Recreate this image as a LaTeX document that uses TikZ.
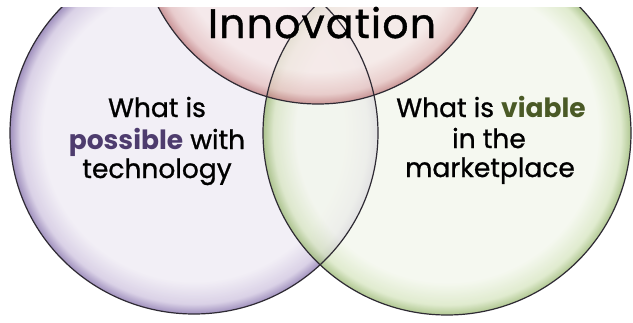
\documentclass[tikz,border=0pt]{standalone}
\usepackage{fontspec}
\setmainfont{Poppins}[UprightFeatures={FakeBold=1}]
\definecolor{pl}{HTML}{EFEBF4}
\definecolor{pm}{HTML}{D0C5E0}
\definecolor{pd}{HTML}{8672AC}
\definecolor{gl}{HTML}{F3F7EC}
\definecolor{gm}{HTML}{D8E6C2}
\definecolor{gd}{HTML}{9AB873}
\definecolor{rl}{HTML}{F6E8E8}
\definecolor{rm}{HTML}{E6C2C2}
\definecolor{rd}{HTML}{BF7C7E}
\definecolor{edge}{HTML}{2E2A33}
\definecolor{possc}{HTML}{4E3C6E}
\definecolor{viac}{HTML}{4A5A26}
\pgfdeclareradialshading{purpleglass}{\pgfpoint{0bp}{0bp}}{color(0bp)=(pl); color(20.5bp)=(pl); color(23.6bp)=(pm); color(25bp)=(pd); color(50bp)=(pd)}
\pgfdeclareradialshading{greenglass}{\pgfpoint{0bp}{0bp}}{color(0bp)=(gl); color(20.5bp)=(gl); color(23.6bp)=(gm); color(25bp)=(gd); color(50bp)=(gd)}
\pgfdeclareradialshading{pinkglass}{\pgfpoint{0bp}{0bp}}{color(0bp)=(rl); color(20.5bp)=(rl); color(23.6bp)=(rm); color(25bp)=(rd); color(50bp)=(rd)}
\tikzset{
  glass/.style={opacity=0.78},
  rim/.style={draw=edge, line width=1.2pt},
  txt/.style={anchor=base, inner sep=0pt, font=\fontsize{26.5}{30}\selectfont, text=black},
}
\begin{document}
\begin{tikzpicture}[x=1pt,y=-1pt]
\useasboundingbox[fill=white] (0,0) rectangle (633,322);
\begin{scope}
\clip (0,7) rectangle (633,322);
\shade[glass, shading=purpleglass] (194,133) ellipse [x radius=184, y radius=181];
\shade[glass, shading=greenglass] (447,133) ellipse [x radius=184, y radius=182];
\shade[glass, shading=pinkglass] (318,-76) circle [radius=180];
\draw[rim] (194,133) ellipse [x radius=184, y radius=181];
\draw[rim] (447,133) ellipse [x radius=184, y radius=182];
\draw[rim] (318,-76) circle [radius=180];
\end{scope}
\node[txt, font=\fontsize{41}{44}\selectfont\addfontfeatures{LetterSpace=3}] (innov) at (322,38) {Innovation};
\node[txt] (l1) at (157,117) {What is};
\node[txt] (l2) at (157,149) {\textcolor{possc}{\bfseries possible} with};
\node[txt] (l3) at (157,178) {technology};
\node[txt] (r1) at (491,117) {What is \textcolor{viac}{\bfseries viable}};
\node[txt] (r2) at (489,148) {in the};
\node[txt] (r3) at (490,177) {marketplace};
\end{tikzpicture}
\end{document}
